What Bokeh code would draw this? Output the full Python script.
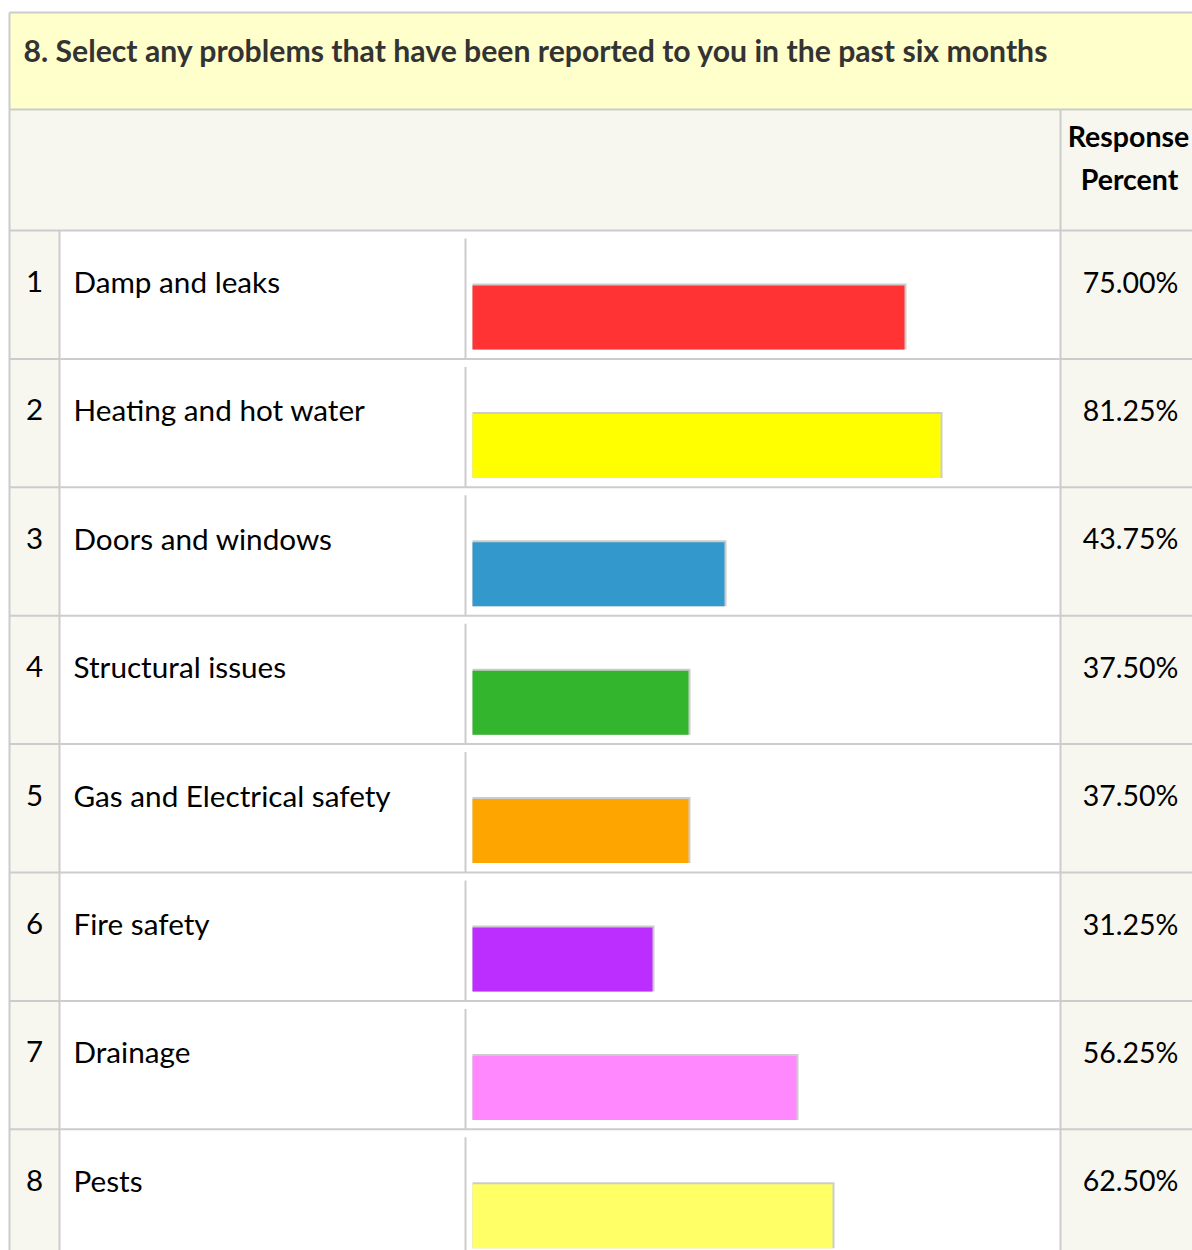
from bokeh.plotting import figure
from bokeh.models import Range1d
from bokeh.core.properties import value
from bokeh.embed import file_html
from bokeh.resources import INLINE

# ---- data ----
title = "8. Select any problems that have been reported to you in the past six months"
header = ["Response", "Percent"]
numbers = ["1", "2", "3", "4", "5", "6", "7", "8"]
categories = ["Damp and leaks", "Heating and hot water", "Doors and windows",
              "Structural issues", "Gas and Electrical safety", "Fire safety",
              "Drainage", "Pests"]
percents = [75.00, 81.25, 43.75, 37.50, 37.50, 31.25, 56.25, 62.50]
bar_colors = ["#ff3333", "#ffff00", "#3399cc", "#33b52e", "#ffa500",
              "#bb2eff", "#ff88ff", "#ffff66"]

# ---- layout (page pixel coordinates) ----
W, H = 1192, 1250
FONT = "Lato"
border = "#cccccc"
shade = "#f7f7f0"

bar_origin = 472.0
px_per_pct = 5.76
row_top0 = 230.0
row_h = 128.4
n = len(categories)

p = figure(width=W, height=H, output_backend="svg", toolbar_location=None,
           x_range=Range1d(0, W), y_range=Range1d(H, 0),
           min_border=0, outline_line_color=None, background_fill_color="white",
           border_fill_color="white")
p.axis.visible = False
p.grid.visible = False
p.extra_x_ranges = {"pct": Range1d((0 - bar_origin) / px_per_pct,
                                   (W - bar_origin) / px_per_pct)}

right = W + 5
bottom = H + 5
row_tops = [row_top0 + i * row_h for i in range(n)]

# backgrounds
p.quad(left=[9], right=[right], top=[12], bottom=[109], fill_color="#ffffcc", line_color=None)
p.quad(left=[9], right=[right], top=[109], bottom=[230], fill_color=shade, line_color=None)
p.quad(left=[9], right=[59], top=[230], bottom=[bottom], fill_color=shade, line_color=None)
p.quad(left=[1060], right=[right], top=[230], bottom=[bottom], fill_color=shade, line_color=None)

# grid lines
hy = [12, 109] + row_tops
p.segment(x0=[9] * len(hy), y0=hy, x1=[right] * len(hy), y1=hy, line_color=border, line_width=2)
p.segment(x0=[9], y0=[12], x1=[9], y1=[bottom], line_color=border, line_width=2)
p.segment(x0=[59], y0=[230], x1=[59], y1=[bottom], line_color=border, line_width=2)
p.segment(x0=[1060], y0=[109], x1=[1060], y1=[bottom], line_color=border, line_width=2)
p.segment(x0=[465] * n, y0=[t + 8 for t in row_tops], x1=[465] * n,
          y1=[t + row_h for t in row_tops], line_color=border, line_width=2)

# bars (shadow + fill)
shift = 2 / px_per_pct
bar_top = [t + 55 for t in row_tops]
bar_bot = [t + 119 for t in row_tops]
p.quad(left=[0] * n, right=[v + shift for v in percents], top=[t - 2 for t in bar_top],
       bottom=bar_bot, fill_color=border, line_color=None, x_range_name="pct")
p.quad(left=[0] * n, right=percents, top=bar_top, bottom=bar_bot,
       fill_color=bar_colors, line_color=None, x_range_name="pct")

# texts
p.text(x=[23], y=[49], text=[title], text_font=value(FONT), text_font_style="bold",
       text_font_size="30.2px", text_color="#333333", text_baseline="middle")
p.text(x=[1128, 1129], y=[135, 178], text=header, text_font=value(FONT),
       text_font_style="bold", text_font_size="28.5px", text_color="#000000",
       text_align="center", text_baseline="middle")
mid = [t + 51 for t in row_tops]
p.text(x=[34] * n, y=mid, text=numbers, text_font=value(FONT), text_font_size="29.5px",
       text_color="#000000", text_align="center", text_baseline="middle")
p.text(x=[73] * n, y=mid, text=categories, text_font=value(FONT), text_font_size="29.7px",
       text_color="#000000", text_baseline="middle")
p.text(x=[1130] * n, y=mid, text=["%.2f%%" % v for v in percents], text_font=value(FONT),
       text_font_size="28.5px", text_color="#000000", text_align="center",
       text_baseline="middle")

open("out.html", "w").write(file_html(p, INLINE))
